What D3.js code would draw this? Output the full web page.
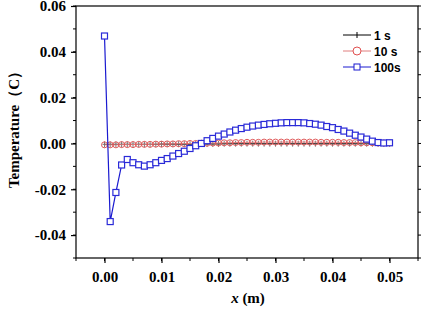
<!DOCTYPE html>
<html>
<head>
<meta charset="utf-8">
<script src="https://cdn.jsdelivr.net/npm/d3@7"></script>
<style>
  body { margin: 0; background: #fff; }
  svg { display: block; }
</style>
</head>
<body>
<div id="chart"></div>
<script>
// positions along the rod (m)
var xPos = [0.000,0.001,0.002,0.003,0.004,0.005,0.006,0.007,0.008,0.009,
            0.010,0.011,0.012,0.013,0.014,0.015,0.016,0.017,0.018,0.019,
            0.020,0.021,0.022,0.023,0.024,0.025,0.026,0.027,0.028,0.029,
            0.030,0.031,0.032,0.033,0.034,0.035,0.036,0.037,0.038,0.039,
            0.040,0.041,0.042,0.043,0.044,0.045,0.046,0.047,0.048,0.049,0.050];
var temp1s = [-0.0004,-0.0004,-0.0004,-0.0004,-0.0004,-0.0004,-0.0004,-0.0004,-0.0004,-0.0004,
              -0.0003,-0.0003,-0.0003,-0.0003,-0.0003,-0.0003,-0.0002,-0.0002,-0.0002,-0.0002,
              -0.0002,-0.0001,-0.0001,-0.0001,-0.0001,-0.0001,-0.0001,-0.0001,-0.0001,-0.0001,
              -0.0001,-0.0001,-0.0001,-0.0001,-0.0001,-0.0001,-0.0001,-0.0001,-0.0001,-0.0001,
              -0.0001,-0.0001,-0.0001,-0.0001,-0.0001,-0.0001,-0.0001,-0.0001,-0.0001,-0.0001,-0.0001];
var temp10s = [-0.0006,-0.0006,-0.0006,-0.0005,-0.0005,-0.0005,-0.0004,-0.0004,-0.0004,-0.0003,
               -0.0003,-0.0002,-0.0002,-0.0001,-0.0001,0.0000,0.0000,0.0001,0.0001,0.0002,
               0.0002,0.0003,0.0003,0.0004,0.0004,0.0005,0.0005,0.0005,0.0006,0.0006,
               0.0006,0.0006,0.0006,0.0006,0.0006,0.0006,0.0006,0.0006,0.0005,0.0005,
               0.0005,0.0005,0.0004,0.0004,0.0004,0.0003,0.0003,0.0003,0.0002,0.0002,0.0002];
var temp100s = [0.0469,-0.0341,-0.0214,-0.0094,-0.0070,-0.0084,-0.0093,-0.0099,-0.0093,-0.0084,
                -0.0074,-0.0066,-0.0055,-0.0044,-0.0034,-0.0022,-0.0010,0.0000,0.0012,0.0022,
                0.0032,0.0041,0.0050,0.0058,0.0065,0.0071,0.0076,0.0080,0.0083,0.0086,
                0.0088,0.0090,0.0091,0.0091,0.0091,0.0090,0.0087,0.0084,0.0080,0.0074,
                0.0069,0.0061,0.0054,0.0045,0.0036,0.0028,0.0019,0.0010,0.0004,0.0002,0.0003];
var xTicks = [0.00, 0.01, 0.02, 0.03, 0.04, 0.05];
var yTicks = [-0.04, -0.02, 0.00, 0.02, 0.04, 0.06];
var legendLabels = ["1 s", "10 s", "100s"];

var width = 421, height = 310;
var margin = {top: 6, right: 3, bottom: 52, left: 76};
var innerWidth = width - margin.left - margin.right;
var innerHeight = height - margin.top - margin.bottom;

var svg = d3.select("#chart").append("svg")
    .attr("width", width)
    .attr("height", height);
var g = svg.append("g")
    .attr("transform", "translate(" + margin.left + "," + margin.top + ")");

var xScale = d3.scaleLinear().domain([-0.005, 0.055]).range([0, innerWidth]);
var yScale = d3.scaleLinear().domain([-0.05, 0.06]).range([innerHeight, 0]);

var tickFont = "'Liberation Serif', 'Times New Roman', serif";

// frame
g.append("rect")
    .attr("x", 0).attr("y", 0)
    .attr("width", innerWidth).attr("height", innerHeight)
    .attr("fill", "none").attr("stroke", "#000").attr("stroke-width", 1.2);

// minor ticks
var xMinor = d3.range(-0.005, 0.0551, 0.005);
var yMinor = d3.range(-0.05, 0.0601, 0.01);
g.append("g").selectAll("line").data(xMinor).enter().append("line")
    .attr("x1", function(d) { return xScale(d); })
    .attr("x2", function(d) { return xScale(d); })
    .attr("y1", innerHeight).attr("y2", innerHeight + 3)
    .attr("stroke", "#000");
g.append("g").selectAll("line").data(yMinor).enter().append("line")
    .attr("y1", function(d) { return yScale(d); })
    .attr("y2", function(d) { return yScale(d); })
    .attr("x1", 0).attr("x2", -3)
    .attr("stroke", "#000");
g.append("g").selectAll("line").data(yMinor).enter().append("line")
    .attr("y1", function(d) { return yScale(d); })
    .attr("y2", function(d) { return yScale(d); })
    .attr("x1", innerWidth).attr("x2", innerWidth + 3)
    .attr("stroke", "#000");

// axes
var xAxis = g.append("g")
    .attr("transform", "translate(0," + innerHeight + ")")
    .call(d3.axisBottom(xScale).tickValues(xTicks).tickSize(5).tickPadding(8));
var yAxis = g.append("g")
    .call(d3.axisLeft(yScale).tickValues(yTicks).tickSize(5).tickPadding(5));
[xAxis, yAxis].forEach(function(a) {
    a.select(".domain").remove();
    a.selectAll("line").attr("stroke", "#000").attr("stroke-width", 1.2);
    a.selectAll("text")
        .attr("fill", "#000")
        .style("font-family", tickFont)
        .style("font-weight", "bold")
        .style("font-size", "15px")
        .text(function(d) { return d3.format(".2f")(d).replace("−", "-"); });
});

var line = d3.line()
    .x(function(d) { return xScale(d[0]); })
    .y(function(d) { return yScale(d[1]); });

function pairs(vals) { return xPos.map(function(x, i) { return [x, vals[i]]; }); }

var dataGroup = g.append("g");

// 1 s
dataGroup.append("path")
    .attr("d", line(pairs(temp1s)))
    .attr("fill", "none").attr("stroke", "#000").attr("stroke-width", 1);
dataGroup.append("g").selectAll("path").data(pairs(temp1s)).enter().append("path")
    .attr("d", function(d) {
        var cx = xScale(d[0]), cy = yScale(d[1]);
        return "M" + (cx - 2) + "," + cy + "H" + (cx + 2) + "M" + cx + "," + (cy - 3) + "V" + (cy + 3);
    })
    .attr("stroke", "#555").attr("stroke-width", 0.8);

// 10 s
dataGroup.append("path")
    .attr("d", line(pairs(temp10s)))
    .attr("fill", "none").attr("stroke", "#e07f7f").attr("stroke-width", 1);
dataGroup.append("g").selectAll("circle").data(pairs(temp10s)).enter().append("circle")
    .attr("cx", function(d) { return xScale(d[0]); })
    .attr("cy", function(d) { return yScale(d[1]); })
    .attr("r", 3)
    .attr("fill", "none").attr("stroke", "#e05a5a").attr("stroke-width", 1);

// 100 s
dataGroup.append("path")
    .attr("d", line(pairs(temp100s)))
    .attr("fill", "none").attr("stroke", "#1a1ad0").attr("stroke-width", 1.2);
dataGroup.append("g").selectAll("rect").data(pairs(temp100s)).enter().append("rect")
    .attr("x", function(d) { return xScale(d[0]) - 3; })
    .attr("y", function(d) { return yScale(d[1]) - 3; })
    .attr("width", 6).attr("height", 6)
    .attr("fill", "#fff").attr("stroke", "#2a2ad8").attr("stroke-width", 1.2);

// legend
var legend = svg.append("g").attr("transform", "translate(343,35)");
var legendColors = ["#000", "#e07f7f", "#1a1ad0"];
legendLabels.forEach(function(lab, i) {
    var row = legend.append("g").attr("transform", "translate(0," + (i * 16) + ")");
    row.append("line").attr("x1", 0).attr("x2", 28).attr("y1", 0).attr("y2", 0)
        .attr("stroke", legendColors[i]).attr("stroke-width", 1);
    if (i === 0) {
        row.append("line").attr("x1", 14).attr("x2", 14).attr("y1", -3).attr("y2", 3).attr("stroke", "#000");
    } else if (i === 1) {
        row.append("circle").attr("cx", 14).attr("cy", 0).attr("r", 4)
            .attr("fill", "#fff").attr("stroke", "#e05050");
    } else {
        row.append("rect").attr("x", 11).attr("y", -3).attr("width", 6).attr("height", 6)
            .attr("fill", "#fff").attr("stroke", "#1a1ad0");
    }
    row.append("text").attr("x", 31).attr("y", 4.5)
        .style("font-family", "'Liberation Sans', Arial, sans-serif")
        .style("font-weight", "bold").style("font-size", "12px")
        .text(lab);
});

// axis titles
svg.append("text")
    .attr("transform", "translate(19," + (margin.top + innerHeight / 2 - 6) + ") rotate(-90)")
    .attr("text-anchor", "middle")
    .style("font-family", tickFont).style("font-weight", "bold").style("font-size", "15px")
    .text("Temperature（C）");
var xt = svg.append("text")
    .attr("x", 248).attr("y", 303)
    .attr("text-anchor", "middle")
    .style("font-family", tickFont).style("font-weight", "bold").style("font-size", "15px");
xt.append("tspan").style("font-style", "italic").text("x");
xt.append("tspan").text(" (m)");
</script>
</body>
</html>
